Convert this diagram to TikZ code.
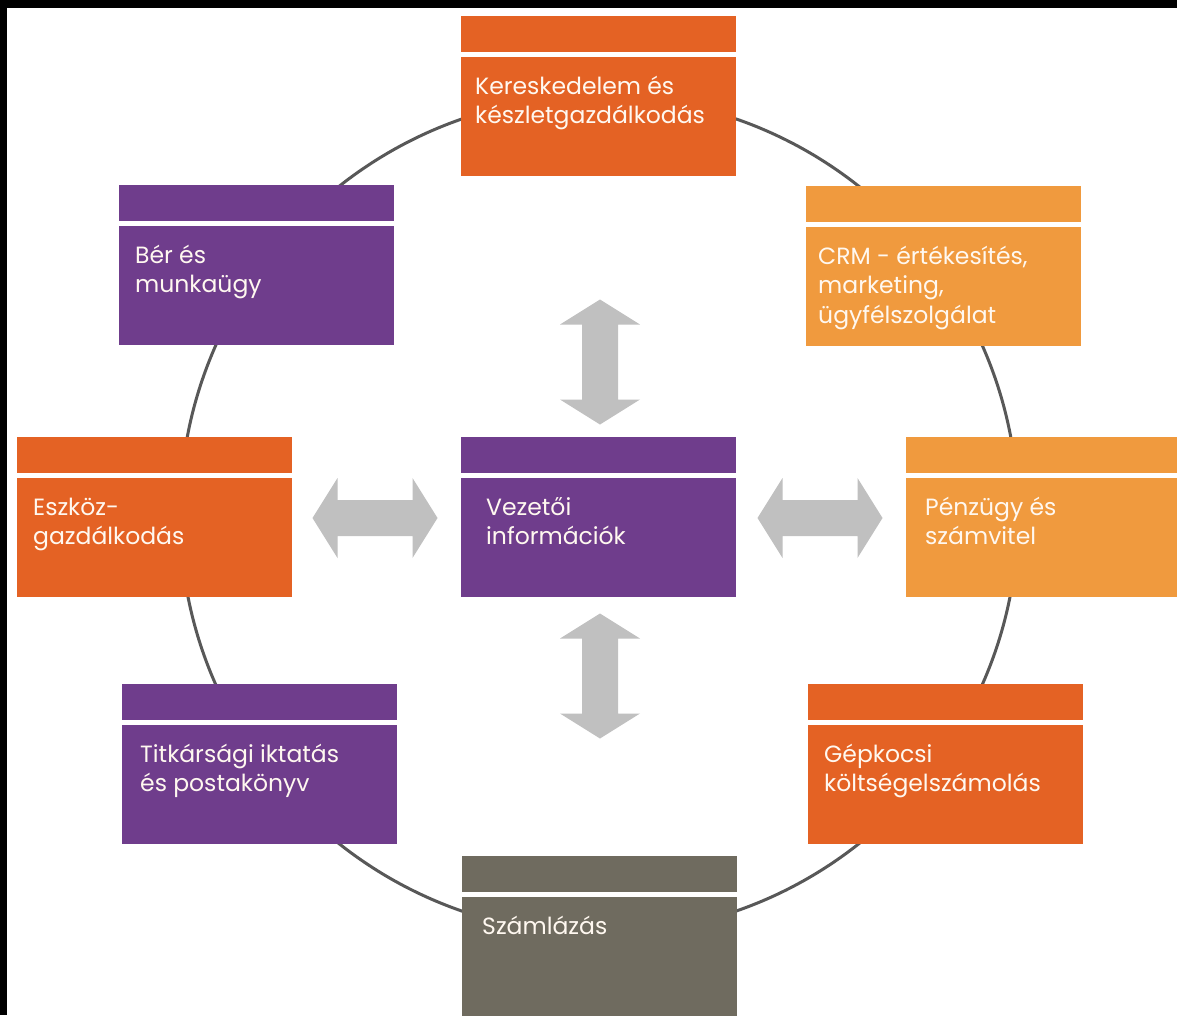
\documentclass[tikz,border=0pt]{standalone}
\usepackage{fontspec}
\setmainfont{Poppins}
\usepackage{tikz}
\usetikzlibrary{positioning}
\definecolor{ordark}{RGB}{228,98,36}
\definecolor{orlight}{RGB}{240,154,62}
\definecolor{lila}{RGB}{111,61,140}
\definecolor{kozep}{RGB}{111,107,95}
\definecolor{nyil}{RGB}{192,192,192}
\definecolor{gyuru}{RGB}{88,88,88}
\definecolor{betu}{RGB}{255,248,240}
\tikzset{
    modul/.style={minimum width=275pt, minimum height=160pt, inner sep=0pt, anchor=north west},
    felirat/.style={text=betu, align=left, inner sep=0pt, anchor=base west,
        font=\fontsize{23.5}{29.5}\selectfont},
    dblarrow/.pic={
        \fill[nyil] (-62.5,0) -- (-37.5,-40) -- (-37.5,-18) -- (37.5,-18) -- (37.5,-40)
            -- (62.5,0) -- (37.5,40) -- (37.5,18) -- (-37.5,18) -- (-37.5,40) -- cycle;
    }
}

\begin{document}
\begin{tikzpicture}[x=1pt, y=-1pt]
    \useasboundingbox (0,0) rectangle (1177,1015);
    \fill[white] (0,0) rectangle (1177,1015);
    \fill[black] (0,0) rectangle (1177,8);
    \fill[black] (0,0) rectangle (7,1015);
    % ring behind the boxes
    \draw[gyuru, line width=3pt] (599,515) circle[radius=419];
    % base of a node is its last line, so shift by the extra lines
    \foreach \n/\x/\y/\c/\dx/\k/\t in {
        kersk/461/16/ordark/14/1/{Kereskedelem és\\készletgazdálkodás},
        crm/806/186/orlight/12/2/{CRM - értékesítés,\\marketing,\\ügyfélszolgálat},
        ber/119/185/lila/16/1/{Bér és\\munkaügy},
        eszk/17/437/ordark/16/1/{Eszköz-\\gazdálkodás},
        vez/461/437/lila/25/1/{Vezetői\\információk},
        penz/906/437/orlight/19/1/{Pénzügy és\\számvitel},
        titk/122/684/lila/18/1/{Titkársági iktatás\\és postakönyv},
        gep/808/684/ordark/16/1/{Gépkocsi\\költségelszámolás},
        szaml/462/856/kozep/20/0/{Számlázás}
        } {
        \node[modul, fill=\c] (\n) at (\x,\y) {};
        \draw[white, line width=4.5pt] ([yshift=-38.5pt]\n.north west) -- ([yshift=-38.5pt]\n.north east);
        \node[felirat] (\n-t) at ([xshift=\dx pt, yshift=-78pt-\k*29.5pt]\n.north west) {\t};
    }
    % arrows round the centre
    \pic (fel) at (600,362) [rotate=90] {dblarrow};
    \pic (le) at (600,676) [rotate=90] {dblarrow};
    \pic (bal) at (375,518) {dblarrow};
    \pic (jobb) at (820,518) {dblarrow};
\end{tikzpicture}
\end{document}
